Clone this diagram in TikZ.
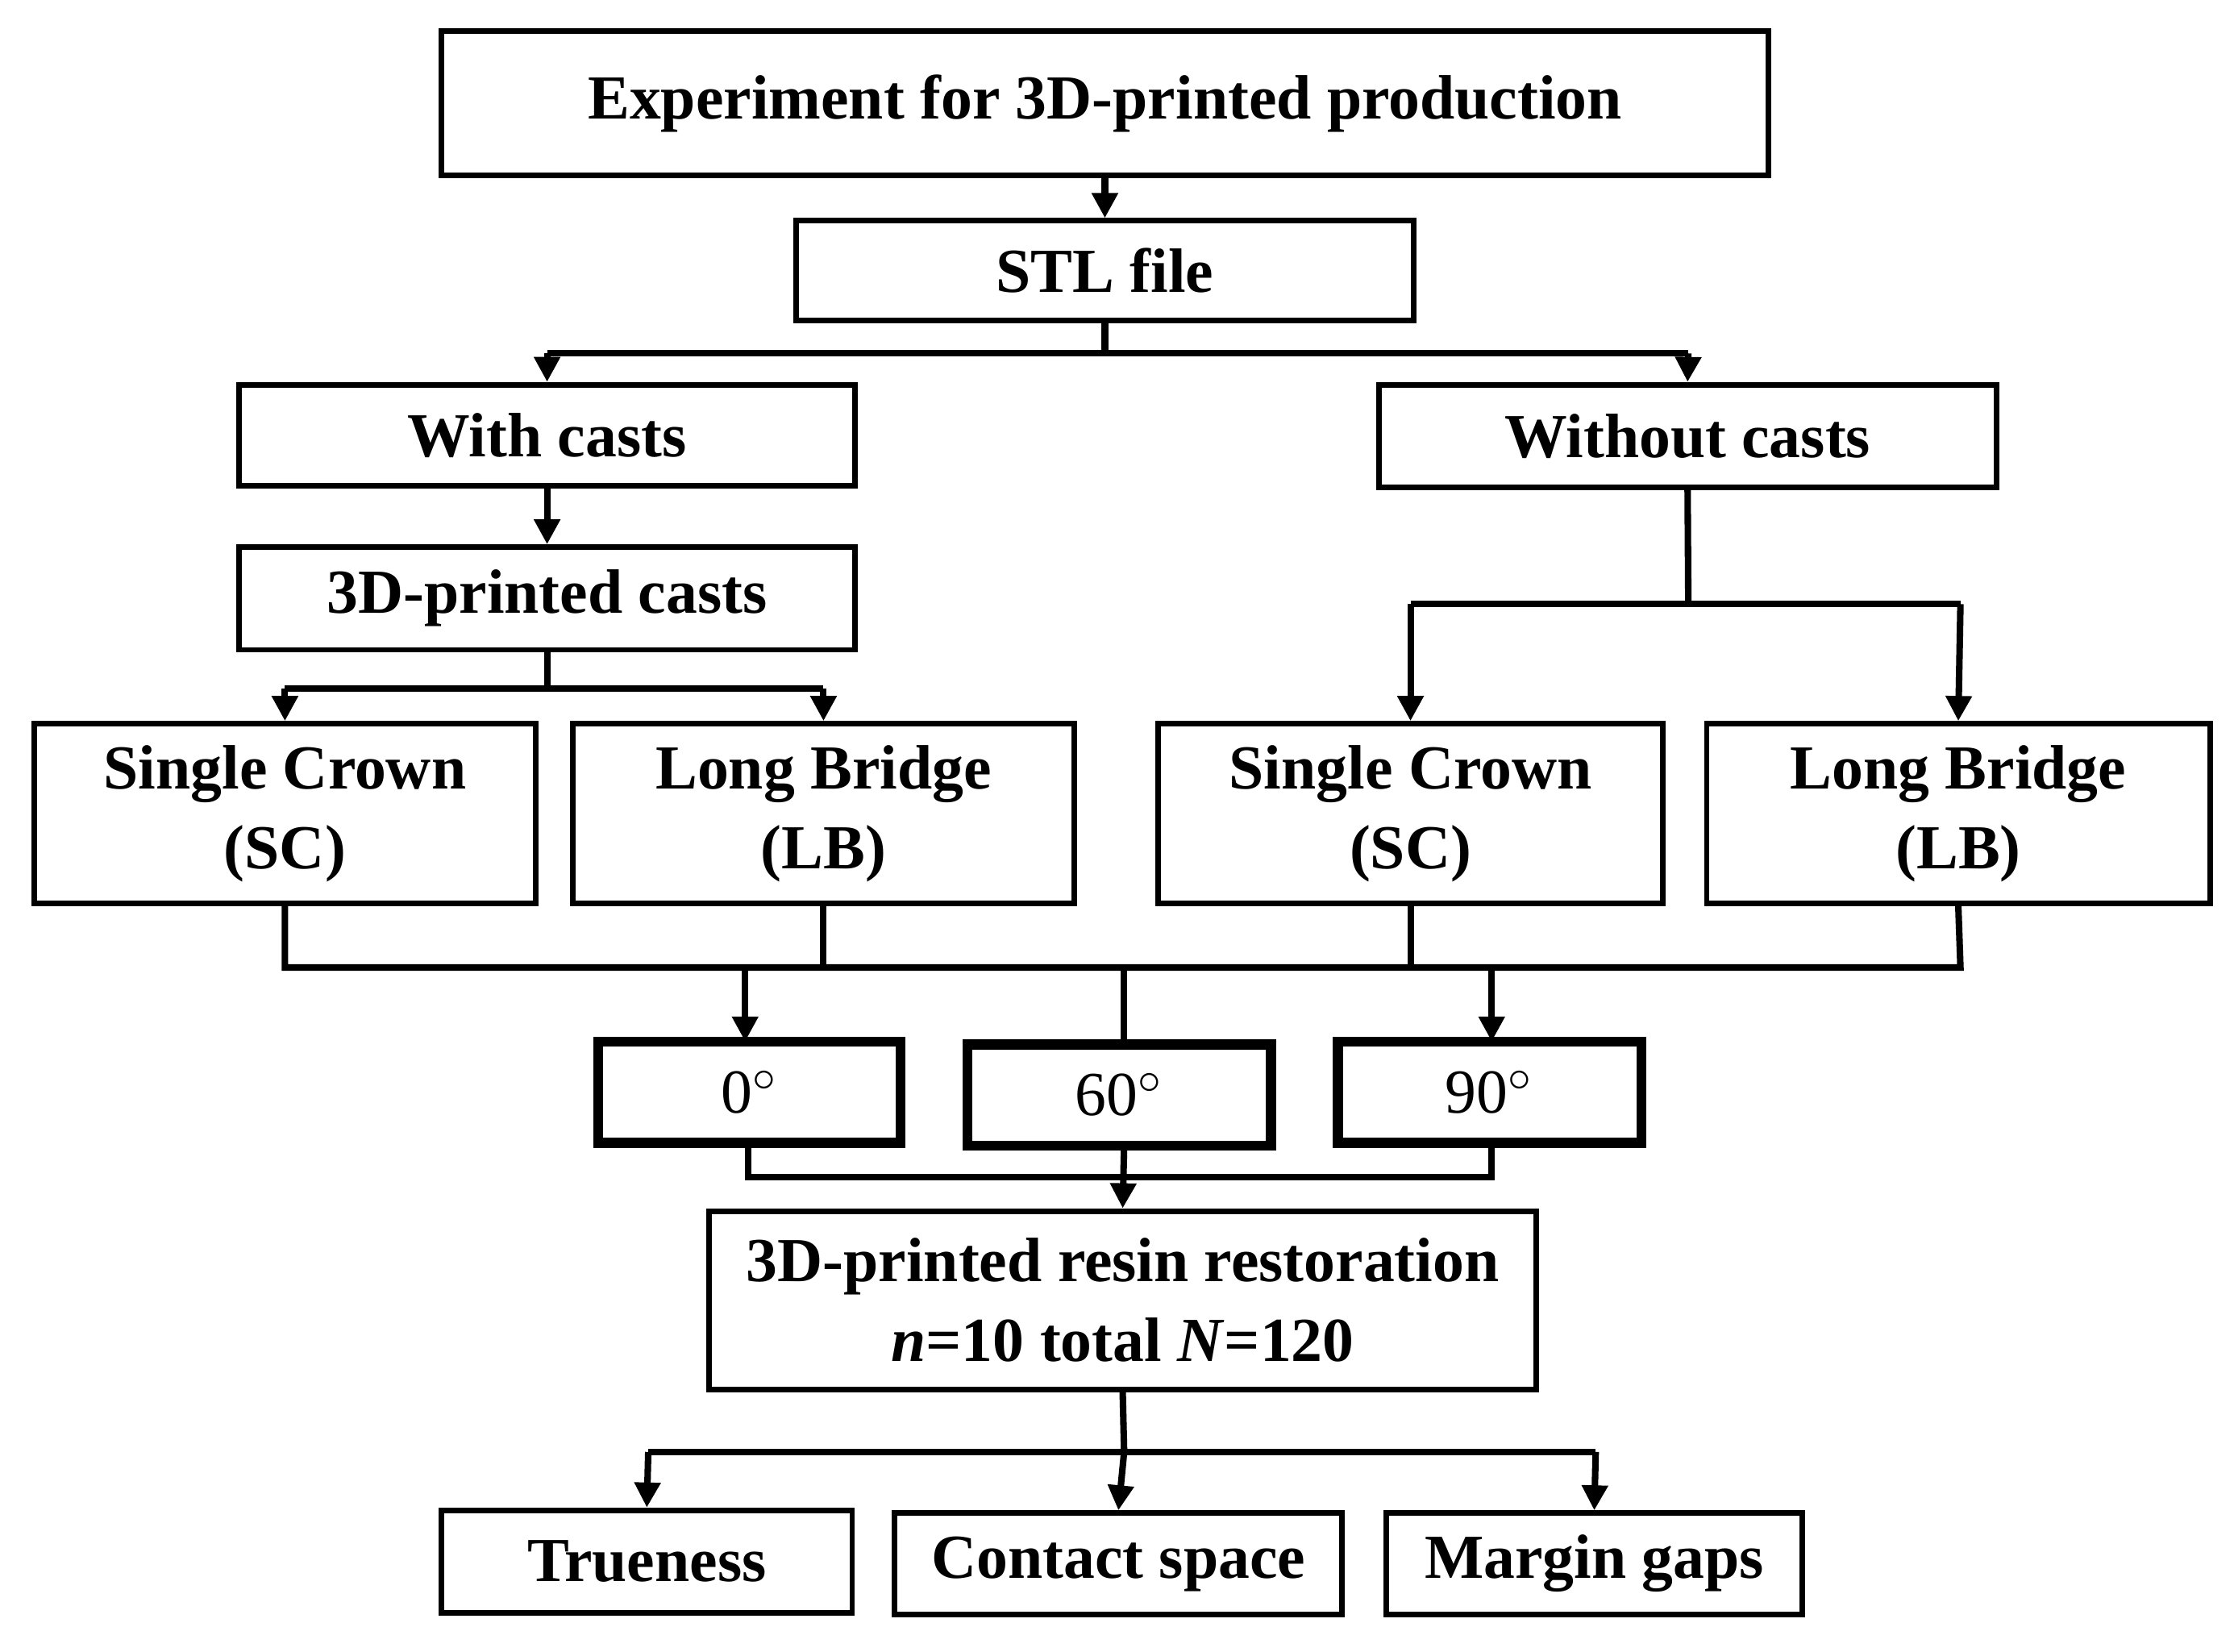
\documentclass[tikz,border=0pt]{standalone}
\usepackage{fontspec}
\setmainfont{Liberation Serif}
\usetikzlibrary{arrows.meta}
\begin{document}
\begin{tikzpicture}[x=0.01cm,y=-0.01cm,
  bx/.style={draw,line width=1.1pt,inner sep=0pt,font=\fontsize{12.5}{14}\selectfont\bfseries,align=center},
  ang/.style={draw,line width=2pt,inner sep=0pt,font=\fontsize{12.5}{14}\selectfont},
  ln/.style={line width=1.3pt},
  ar/.style={line width=1.3pt,-{Triangle[length=5pt,width=5pt]}}]
\useasboundingbox (0,0) rectangle (1568,1159);
\node[bx,minimum width=9.31cm,minimum height=1.01cm] (top) at (775.5,72.5) {Experiment for 3D-printed production};
\node[bx,minimum width=4.33cm,minimum height=0.70cm] (stl) at (775.5,190) {STL file};
\node[bx,minimum width=4.32cm,minimum height=0.71cm] (with) at (384,305.5) {With casts};
\node[bx,minimum width=4.33cm,minimum height=0.72cm] (without) at (1184.5,306) {Without casts};
\node[bx,minimum width=4.32cm,minimum height=0.72cm] (casts) at (384,420) {3D-printed casts};
\node[bx,minimum width=3.52cm,minimum height=1.26cm] (sc1) at (200,571) {Single Crown\\[2pt](SC)};
\node[bx,minimum width=3.52cm,minimum height=1.26cm] (lb1) at (578,571) {Long Bridge\\[2pt](LB)};
\node[bx,minimum width=3.54cm,minimum height=1.26cm] (sc2) at (990,571) {Single Crown\\[2pt](SC)};
\node[bx,minimum width=3.53cm,minimum height=1.26cm] (lb2) at (1374.5,571) {Long Bridge\\[2pt](LB)};
\node[ang,minimum width=2.12cm,minimum height=0.71cm] (a0) at (526,766.5) {0$^{\circ}$};
\node[ang,minimum width=2.13cm,minimum height=0.71cm] (a60) at (785.5,768.5) {60$^{\circ}$};
\node[ang,minimum width=2.13cm,minimum height=0.71cm] (a90) at (1045.5,766.5) {90$^{\circ}$};
\node[bx,minimum width=5.80cm,minimum height=1.25cm] (res) at (788,912.5) {3D-printed resin restoration\\[2pt]\textit{n}=10 total \textit{N}=120};
\node[bx,minimum width=2.88cm,minimum height=0.72cm] (tr) at (454,1096) {Trueness};
\node[bx,minimum width=3.14cm,minimum height=0.71cm] (cs) at (785,1097.5) {Contact space};
\node[bx,minimum width=2.92cm,minimum height=0.71cm] (mg) at (1119,1097.5) {Margin gaps};

\draw[ar] (top.south) -- (stl.north);
\draw[ln] (stl.south) -- (775.5,248);
\draw[ar] (384,248) -- (with.north);
\draw[ar] (1185,248) -- (without.north);
\draw[ln] (384,248) -- (1185,248);
\draw[ar] (with.south) -- (casts.north);
\draw[ln] (casts.south) -- (384,483);
\draw[ln] (200,483) -- (578,483);
\draw[ar] (200,483) -- (sc1.north);
\draw[ar] (578,483) -- (lb1.north);
\draw[ln] (without.south) -- (1185,424);
\draw[ln] (990,424) -- (1376,424);
\draw[ar] (990,424) -- (sc2.north);
\draw[ar] (1376,424) -- (lb2.north);
\draw[ln] (sc1.south) -- (200,679) -- (1376,679) -- (lb2.south);
\draw[ln] (lb1.south) -- (578,679);
\draw[ln] (sc2.south) -- (990,679);
\draw[ar] (523,679) -- (523,731);
\draw[ln] (789,679) -- (789,733);
\draw[ar] (1047,679) -- (1047,731);
\draw[ln] (525,802) -- (525,826) -- (1047,826) -- (1047,802);
\draw[ar] (789,804) -- (res.north);
\draw[ln] (res.south) -- (789,1019);
\draw[ln] (455,1019) -- (1120,1019);
\draw[ar] (455,1019) -- (tr.north);
\draw[ar] (789,1019) -- (cs.north);
\draw[ar] (1120,1019) -- (mg.north);
\end{tikzpicture}
\end{document}
